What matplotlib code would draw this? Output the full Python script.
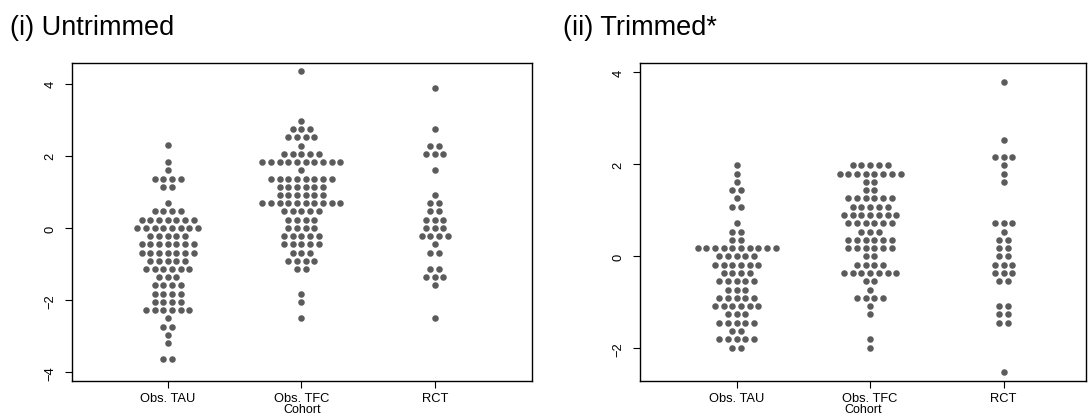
import matplotlib.pyplot as plt

plt.rcParams['font.family'] = ['Liberation Sans', 'DejaVu Sans']

groups = ['Obs. TAU', 'Obs. TFC', 'RCT']

# (i) untrimmed: bin level and number of dots in each bin
untr_tau_y = [2.29, 1.82, 1.60, 1.37, 1.14, 0.68, 0.46, 0.23, 0.0, -0.22, -0.45, -0.68,
              -0.91, -1.14, -1.37, -1.59, -1.82, -2.05, -2.27, -2.50, -2.73, -2.96, -3.18, -3.64]
untr_tau_n = [1, 1, 1, 4, 2, 1, 4, 7, 8, 5, 7, 7, 5, 6, 3, 4, 4, 4, 6, 1, 2, 1, 1, 2]
untr_tfc_y = [4.34, 2.96, 2.74, 2.51, 2.28, 2.05, 1.82, 1.60, 1.37, 1.14, 0.91, 0.68,
              0.46, 0.23, 0.0, -0.22, -0.45, -0.68, -0.91, -1.14, -1.82, -2.05, -2.50]
untr_tfc_n = [1, 1, 3, 4, 1, 5, 10, 1, 8, 6, 6, 10, 5, 4, 4, 5, 5, 3, 4, 2, 1, 1, 1]
untr_rct_y = [3.88, 2.74, 2.28, 2.05, 1.60, 0.91, 0.68, 0.46, 0.23, 0.0, -0.22, -0.45,
              -0.68, -1.14, -1.37, -1.59, -2.50]
untr_rct_n = [1, 1, 2, 3, 1, 1, 2, 2, 3, 3, 4, 1, 2, 2, 3, 1, 1]

# (ii) trimmed
trim_tau_y = [1.98, 1.80, 1.62, 1.44, 1.26, 1.08, 0.72, 0.54, 0.36, 0.18, 0.0, -0.18,
              -0.36, -0.54, -0.72, -0.90, -1.08, -1.26, -1.44, -1.62, -1.80, -1.98]
trim_tau_n = [1, 1, 1, 2, 1, 2, 1, 2, 2, 10, 5, 6, 4, 5, 3, 5, 6, 3, 5, 2, 5, 2]
trim_tfc_y = [1.98, 1.80, 1.62, 1.44, 1.26, 1.08, 0.90, 0.72, 0.54, 0.36, 0.18, 0.0,
              -0.18, -0.36, -0.54, -0.72, -0.90, -1.08, -1.26, -1.80, -1.98]
trim_tfc_n = [5, 8, 2, 2, 6, 5, 7, 6, 3, 6, 6, 2, 4, 7, 2, 1, 4, 1, 1, 1, 1]
trim_rct_y = [3.78, 2.53, 2.15, 1.98, 1.80, 1.62, 0.72, 0.54, 0.36, 0.18, 0.0, -0.18,
              -0.36, -0.54, -1.08, -1.26, -1.44, -2.51]
trim_rct_n = [1, 1, 3, 1, 1, 1, 3, 1, 2, 2, 2, 3, 3, 2, 2, 2, 2, 1]

dot_col = '#5b5b5b'
step = 0.065


def dotplot(ax, pos, ys, ns):
    xs, yy = [], []
    for y, n in zip(ys, ns):
        for i in range(n):
            xs.append(pos + (i - (n - 1) / 2) * step)
            yy.append(y)
    ax.plot(xs, yy, 'o', color=dot_col, ms=4.7, mew=0, ls='none')


fig = plt.figure(figsize=(10.88, 4.14), dpi=100)
ax1 = fig.add_axes([0.0659, 0.078, 0.4231, 0.7674])
ax2 = fig.add_axes([0.5882, 0.078, 0.4100, 0.7674])

dotplot(ax1, 1, untr_tau_y, untr_tau_n)
dotplot(ax1, 2, untr_tfc_y, untr_tfc_n)
dotplot(ax1, 3, untr_rct_y, untr_rct_n)
dotplot(ax2, 1, trim_tau_y, trim_tau_n)
dotplot(ax2, 2, trim_tfc_y, trim_tfc_n)
dotplot(ax2, 3, trim_rct_y, trim_rct_n)

ax1.set_xlim(0.281, 3.729)
ax1.set_ylim(-4.23, 4.57)
ax1.set_yticks([-4, -2, 0, 2, 4])
ax2.set_xlim(0.276, 3.617)
ax2.set_ylim(-2.70, 4.20)
ax2.set_yticks([-2, 0, 2, 4])

for ax in (ax1, ax2):
    ax.set_xticks([1, 2, 3])
    ax.set_xticklabels(groups, fontsize=9.3)
    ax.set_xlabel('Cohort', fontsize=9, labelpad=-0.5)
    ax.tick_params(axis='x', length=5, width=0.8, pad=3)
    ax.tick_params(axis='y', length=5, width=0.8, pad=6, labelsize=9.3, labelrotation=90)
    for lab in ax.get_yticklabels():
        lab.set_verticalalignment('center')
    for s in ax.spines.values():
        s.set_linewidth(1.0)

fig.text(10 / 1088, 1 - 35 / 414, '(i) Untrimmed', fontsize=19.5, va='baseline')
fig.text(563 / 1088, 1 - 35 / 414, '(ii) Trimmed*', fontsize=19.5, va='baseline')

fig.savefig('out.png', dpi=100)
